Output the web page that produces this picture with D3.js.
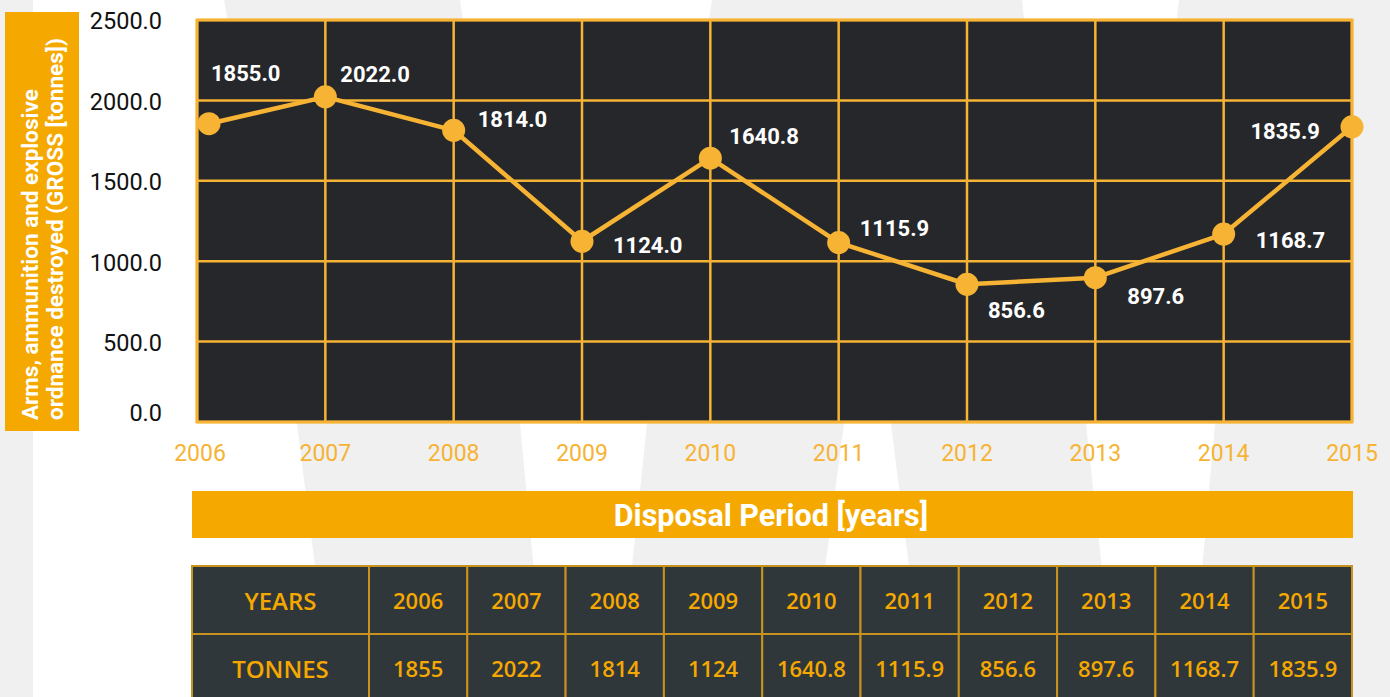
<!DOCTYPE html>
<html>
<head>
<meta charset="utf-8">
<script src="https://cdn.jsdelivr.net/npm/d3@7"></script>
<style>
  html, body { margin: 0; padding: 0; background: #f0f0f0; }
  svg { display: block; }
</style>
</head>
<body>
<svg id="chart" width="1390" height="697"></svg>
<script>
// ---- data ----
const years = ["2006", "2007", "2008", "2009", "2010", "2011", "2012", "2013", "2014", "2015"];
const tonnes = [1855.0, 2022.0, 1814.0, 1124.0, 1640.8, 1115.9, 856.6, 897.6, 1168.7, 1835.9];
const yTicks = [0, 500, 1000, 1500, 2000, 2500];
const yAxisTitle = ["Arms, ammunition and explosive", "ordnance destroyed (GROSS [tonnes])"];
const xAxisTitle = "Disposal Period [years]";
const tableRowHeads = ["YEARS", "TONNES"];

// label placement (annotation layout, relative to each point)
const labelOffsets = [[2, -43, "start"], [15, -15, "start"], [24, -3, "start"], [31, 12, "start"],
                      [19, -14, "start"], [21, -7, "start"], [21, 34, "start"], [32, 26, "start"],
                      [32, 14, "start"], [-32, 12, "end"]];

// ---- style ----
const ORANGE = "#f6b334";
const BAR = "#f5a900";
const PLOT_BG = "#26272b";
const TABLE_BG = "#30373a";
const TABLE_TXT = "#f5a800";
const SLAB = "Roboto, 'DejaVu Sans', sans-serif";
const SANS = "'Open Sans', 'Noto Sans', sans-serif";

const svg = d3.select("#chart");

// ---- background watermark ----
const bgShapes = [
  [[33,0],[224,0],[297,424],[321,614],[332,697],[33,697]],
  [[460,0],[712,0],[647,424],[627,614],[618,697],[546,697],[538,614],[520,424]],
  [[1022,0],[1179,0],[1165,120],[1035,120]],
  [[868,240],[891,424],[915,614],[926,697],[808,697],[819,614],[844,424]],
  [[1070,300],[1225,300],[1215,424],[1198,614],[1190,697],[1116,697],[1107,614],[1086,424]]
];
svg.append("rect").attr("width", 1390).attr("height", 697).attr("fill", "#f0f0f0");
svg.selectAll("polygon.bg").data(bgShapes).join("polygon")
  .attr("class", "bg")
  .attr("points", d => d.map(p => p.join(",")).join(" "))
  .attr("fill", "#ffffff");

// ---- scales ----
const plot = { left: 197, right: 1352, top: 20, bottom: 422 };
const x = d3.scalePoint().domain(years).range([plot.left, plot.right]);
const y = d3.scaleLinear().domain([0, 2500]).range([plot.bottom, plot.top]);

// plot background
svg.append("rect")
  .attr("x", plot.left).attr("y", plot.top)
  .attr("width", plot.right - plot.left).attr("height", plot.bottom - plot.top)
  .attr("fill", PLOT_BG);

// grid
const grid = svg.append("g");
grid.selectAll("line.v").data(years).join("line")
  .attr("x1", d => x(d)).attr("x2", d => x(d))
  .attr("y1", plot.top).attr("y2", plot.bottom)
  .attr("stroke", ORANGE).attr("stroke-width", 2.5);
grid.selectAll("line.h").data(yTicks).join("line")
  .attr("x1", plot.left).attr("x2", plot.right)
  .attr("y1", d => y(d)).attr("y2", d => y(d))
  .attr("stroke", ORANGE).attr("stroke-width", 2.5);
svg.append("rect")
  .attr("x", plot.left).attr("y", plot.top)
  .attr("width", plot.right - plot.left).attr("height", plot.bottom - plot.top)
  .attr("fill", "none").attr("stroke", ORANGE).attr("stroke-width", 3);

// y tick labels
svg.append("g").selectAll("text").data(yTicks).join("text")
  .attr("x", 162)
  .attr("y", d => Math.min(y(d) + 1, plot.bottom - 9))
  .attr("dy", "0.36em")
  .attr("text-anchor", "end")
  .attr("font-family", SLAB).attr("font-size", 23.5).attr("fill", "#111")
  .text(d => d3.format(".1f")(d));

// x tick labels
svg.append("g").selectAll("text").data(years).join("text")
  .attr("x", d => x(d) + (d === years[0] ? 3 : 0))
  .attr("y", 461)
  .attr("text-anchor", "middle")
  .attr("font-family", SLAB).attr("font-weight", 400).attr("font-size", 23).attr("fill", ORANGE)
  .text(d => d);

// y axis title box
svg.append("rect").attr("x", 5).attr("y", 12).attr("width", 74).attr("height", 419).attr("fill", BAR);
const yt = svg.append("text")
  .attr("transform", "translate(38,420) rotate(-90)")
  .attr("font-family", SLAB).attr("font-weight", 700).attr("font-size", 22.5).attr("fill", "#fff");
yt.selectAll("tspan").data(yAxisTitle).join("tspan")
  .attr("x", 0).attr("dy", (d, i) => i === 0 ? 0 : 25)
  .text(d => d);

// line + points
const pts = years.map((yr, i) => ({ yr, v: tonnes[i], cx: Math.max(x(yr), plot.left + 12), cy: y(tonnes[i]), off: labelOffsets[i] }));
svg.append("path")
  .datum(pts)
  .attr("d", d3.line().x(d => d.cx).y(d => d.cy))
  .attr("fill", "none").attr("stroke", ORANGE).attr("stroke-width", 4.5).attr("stroke-linejoin", "round");
svg.append("g").selectAll("circle").data(pts).join("circle")
  .attr("cx", d => d.cx).attr("cy", d => d.cy).attr("r", 11.5).attr("fill", ORANGE);
svg.append("g").selectAll("text").data(pts).join("text")
  .attr("x", d => d.cx + d.off[0]).attr("y", d => d.cy + d.off[1])
  .attr("text-anchor", d => d.off[2])
  .attr("font-family", SLAB).attr("font-weight", 700).attr("font-size", 22).attr("fill", "#fff")
  .text(d => d3.format(".1f")(d.v));

// x axis title bar
svg.append("rect").attr("x", 192).attr("y", 491).attr("width", 1161).attr("height", 47).attr("fill", BAR);
svg.append("text").attr("x", 771).attr("y", 515).attr("dy", "0.36em")
  .attr("text-anchor", "middle")
  .attr("font-family", SLAB).attr("font-weight", 700).attr("font-size", 30.5).attr("fill", "#fff")
  .text(xAxisTitle);

// ---- table ----
const tbl = { left: 192, right: 1352, top: 566, headW: 177, rowH: 68 };
const colX = d3.scaleBand().domain(years).range([tbl.left + tbl.headW, tbl.right]);
const fmtT = v => (v % 1 === 0 ? d3.format("d")(v) : d3.format(".1f")(v));
const rows = [years, tonnes.map(fmtT)];
const tg = svg.append("g");
rows.forEach((row, r) => {
  const ry = tbl.top + r * tbl.rowH;
  tg.append("rect").attr("x", tbl.left).attr("y", ry).attr("width", tbl.headW).attr("height", tbl.rowH)
    .attr("fill", TABLE_BG).attr("stroke", "#c8921e").attr("stroke-width", 2);
  tg.append("text").attr("x", tbl.left + tbl.headW / 2).attr("y", ry + 35).attr("dy", "0.36em")
    .attr("text-anchor", "middle").attr("font-family", SANS).attr("font-weight", 600)
    .attr("font-size", 24).attr("fill", TABLE_TXT).text(tableRowHeads[r]);
  tg.selectAll("rect.c" + r).data(row).join("rect").attr("class", "c" + r)
    .attr("x", (d, i) => colX(years[i])).attr("y", ry)
    .attr("width", colX.bandwidth()).attr("height", tbl.rowH)
    .attr("fill", TABLE_BG).attr("stroke", "#c8921e").attr("stroke-width", 2);
  tg.selectAll("text.c" + r).data(row).join("text").attr("class", "c" + r)
    .attr("x", (d, i) => colX(years[i]) + colX.bandwidth() / 2).attr("y", ry + 35).attr("dy", "0.36em")
    .attr("text-anchor", "middle").attr("font-family", SANS).attr("font-weight", 600)
    .attr("font-size", 22).attr("fill", TABLE_TXT).text(d => d);
});
</script>
</body>
</html>
